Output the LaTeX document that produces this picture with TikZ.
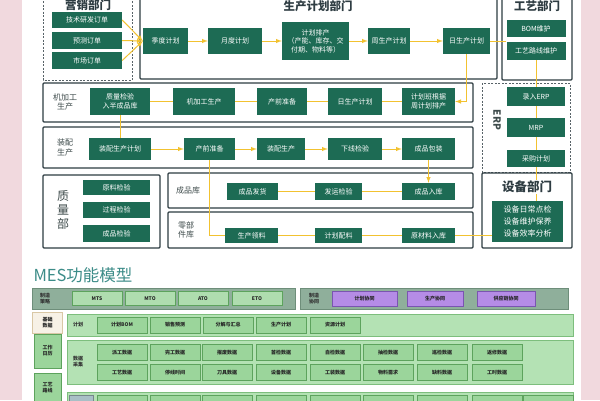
\documentclass[tikz,border=0pt]{standalone}
\usepackage{fontspec}
\setmainfont{Noto Sans CJK SC}
\usepackage{xcolor}
\usepackage{tikz}
\usetikzlibrary{arrows,calc}
\definecolor{pagepink}{HTML}{F1D9DE}
\definecolor{boxgreen}{HTML}{1D6B54}
\definecolor{flowyellow}{HTML}{F2C230}
\definecolor{frameslate}{HTML}{2E3C42}
\definecolor{labelgrey}{HTML}{3E4B4B}
\definecolor{mesteal}{HTML}{3C8C88}
\definecolor{barsage}{HTML}{8FAF9B}
\definecolor{barsageline}{HTML}{6E8E7A}
\definecolor{mesgreen}{HTML}{B4E2B4}
\definecolor{mesgreenline}{HTML}{7DBE7D}
\definecolor{cellgreen}{HTML}{9BD59B}
\definecolor{cellgreenline}{HTML}{5DA35D}
\definecolor{cellpurple}{HTML}{B58CE6}
\definecolor{cellpurpleline}{HTML}{7A55B0}
\definecolor{basetan}{HTML}{F7F1E6}
\definecolor{basetanline}{HTML}{D9C7A5}
\definecolor{routegrey}{HTML}{A8BFC6}
\tikzset{
  gbox/.style={fill=boxgreen, text=white, font=\fontsize{7}{8.5}\selectfont, align=center, inner sep=1pt},
  dept/.style={draw=frameslate, line width=1.3pt, rounded corners=1pt},
  deptdash/.style={draw=frameslate!80, line width=1pt, dash pattern=on 2pt off 1.5pt},
  grouplabel/.style={text=labelgrey, font=\fontsize{8}{9.5}\selectfont, align=center},
  depttitle/.style={text=frameslate, font=\fontsize{11.5}{13}\selectfont\bfseries},
  flow/.style={draw=flowyellow, line width=1pt, -latex},
  link/.style={draw=flowyellow, line width=1pt},
  mesbar/.style={fill=mesgreen, draw=mesgreenline, line width=0.6pt},
  sagebar/.style={fill=barsage, draw=barsageline, line width=0.6pt},
  barlabel/.style={text=black!80, font=\fontsize{5}{6}\selectfont\bfseries, align=center},
  cell/.style={fill=cellgreen, draw=cellgreenline, line width=0.6pt, minimum width=50, minimum height=16, inner sep=0pt, text=black!85, font=\fontsize{5}{6}\selectfont\bfseries},
  pcell/.style={cell, fill=cellpurple, draw=cellpurpleline, minimum height=15},
}
\begin{document}
\begin{tikzpicture}[x=1pt, y=-1pt]
\path[use as bounding box] (0,0) rectangle (600,400);
\clip (0,0) rectangle (600,400);
\fill[pagepink] (0,0) rectangle (600,400);
\fill[white] (22,0) rectangle (581,400);

\draw[deptdash] (43,-6) -- (43,80) -- (132,80) -- (132,-6);
\draw[dept] (140,-6) rectangle (497,79);
\draw[dept] (502,-6) rectangle (572,80);
\draw[deptdash] (482,83) rectangle (570,172);
\draw[dept] (482,173) rectangle (572,248);
\draw[dept] (43,83) rectangle (473,122);
\draw[dept] (43,127) rectangle (473,168);
\draw[dept] (43,175) rectangle (160,248);
\draw[dept] (168,173) rectangle (473,208);
\draw[dept] (168,212) rectangle (473,248);

\node[depttitle, inner sep=0pt] (ttsales) at (88,5.5) {营销部门};
\node[depttitle, inner sep=0pt] (ttplan) at (318,6) {生产计划部门};
\node[depttitle, inner sep=0pt] (ttproc) at (537,6.5) {工艺部门};
\node[text=labelgrey, font=\fontsize{10}{12}\selectfont\bfseries, rotate=-90] (lberp) at (497,120) {ERP};
\node[grouplabel] (lbmach) at (65,102) {机加工\\生产};
\node[grouplabel] (lbasm) at (65,147.5) {装配\\生产};
\node[grouplabel, font=\fontsize{12}{14}\selectfont] (lbqual) at (63,210) {质\\量\\部};
\node[grouplabel] (lbstock) at (188,190.5) {成品库};
\node[grouplabel] (lbparts) at (186,230) {零部\\件库};

\node[gbox, minimum width=70, minimum height=16] (ordrd) at (87,20) {技术研发订单};
\node[gbox, minimum width=70, minimum height=17] (ordfc) at (87,40.5) {预测订单};
\node[gbox, minimum width=70, minimum height=17] (ordmk) at (87,60.5) {市场订单};
\node[gbox, minimum width=45, minimum height=26] (jd) at (165.5,41) {季度计划};
\node[gbox, minimum width=54, minimum height=26] (yd) at (235,41) {月度计划};
\node[gbox, minimum width=67, minimum height=38] (pc) at (315.5,41) {计划排产\\（产能、库存、交\\付期、物料等）};
\node[gbox, minimum width=42, minimum height=26] (zs) at (389,41) {周生产计划};
\node[gbox, minimum width=47, minimum height=26] (rs) at (466.5,41) {日生产计划};
\node[gbox, minimum width=59, minimum height=17] (bom) at (536,28.5) {BOM维护};
\node[gbox, minimum width=59, minimum height=18] (gylx) at (536,51) {工艺路线维护};
\node[gbox, minimum width=58, minimum height=19] (erpin) at (536,96.5) {录入ERP};
\node[gbox, minimum width=58, minimum height=19] (mrp) at (536,127.5) {MRP};
\node[gbox, minimum width=58, minimum height=17] (cg) at (536,158.5) {采购计划};
\node[gbox, minimum width=71, minimum height=41, font=\fontsize{8}{12}\selectfont] (sb) at (527.5,221.5) {设备日常点检\\设备维护保养\\设备效率分析};

\node[gbox, minimum width=60, minimum height=27] (jj1) at (120,101.5) {质量检验\\入半成品库};
\node[gbox, minimum width=62, minimum height=27] (jj2) at (204,101.5) {机加工生产};
\node[gbox, minimum width=50, minimum height=27] (jj3) at (282,101.5) {产前准备};
\node[gbox, minimum width=54, minimum height=27] (jj4) at (355,101.5) {日生产计划};
\node[gbox, minimum width=53, minimum height=27] (jj5) at (428.5,101.5) {计划班根据\\周计划排产};

\node[gbox, minimum width=62, minimum height=22] (zp1) at (120,149) {装配生产计划};
\node[gbox, minimum width=51, minimum height=22] (zp2) at (209.5,149) {产前准备};
\node[gbox, minimum width=48, minimum height=22] (zp3) at (281,149) {装配生产};
\node[gbox, minimum width=54, minimum height=22] (zp4) at (355,149) {下线检验};
\node[gbox, minimum width=53, minimum height=22] (zp5) at (428.5,149) {成品包装};

\node[gbox, minimum width=67, minimum height=15] (zl1) at (116.5,187.5) {原料检验};
\node[gbox, minimum width=67, minimum height=16] (zl2) at (116.5,210) {过程检验};
\node[gbox, minimum width=67, minimum height=17] (zl3) at (116.5,233.5) {成品检验};

\node[gbox, minimum width=51, minimum height=17] (cp1) at (252.5,191.5) {成品发货};
\node[gbox, minimum width=47, minimum height=17] (cp2) at (338.5,191.5) {发运检验};
\node[gbox, minimum width=53, minimum height=17] (cp3) at (428.5,191.5) {成品入库};

\node[gbox, minimum width=53, minimum height=15] (lj1) at (251.5,235.5) {生产领料};
\node[gbox, minimum width=47, minimum height=15] (lj2) at (338.5,235.5) {计划配料};
\node[gbox, minimum width=53, minimum height=15] (lj3) at (428.5,235.5) {原材料入库};

\draw[flow] (ordrd.east) -- (jd.west);
\draw[flow] (ordfc.east) -- (jd.west);
\draw[flow] (ordmk.east) -- (jd.west);
\draw[flow] (jd) -- (yd);
\draw[flow] (yd) -- (pc);
\draw[flow] (pc) -- (zs);
\draw[flow] (zs) -- (rs);
\draw[link] (rs.east) -- (rs.east -| bom.west);
\draw[flow] (rs.south) |- (jj5.east);
\draw[link] (gylx) -- (erpin);
\draw[link] (erpin) -- (mrp);
\draw[link] (mrp) -- (cg);
\draw[link] (cg.south) -- (cg.south |- sb.north);
\draw[link] (jj5) -- (jj4);
\draw[link] (jj4) -- (jj3);
\draw[link] (jj3) -- (jj2);
\draw[link] (jj2) -- (jj1);
\draw[link] (jj1.south) -- (jj1.south |- zp1.north);
\draw[flow] (zp1) -- (zp2);
\draw[flow] (zp2) -- (zp3);
\draw[flow] (zp3) -- (zp4);
\draw[flow] (zp4) -- (zp5);
\draw[link] (zp2.south) |- (lj1.west);
\draw[flow] (zp5.south) -- (cp3.north);
\draw[link] (cp3) -- (cp2);
\draw[link] (cp2) -- (cp1);
\draw[link] (lj3) -- (lj2);
\draw[link] (lj2) -- (lj1);
\draw[link] (lj3.east) -- (lj3.east -| sb.west);
\node[depttitle, fill=white, inner sep=1pt, font=\fontsize{12.5}{14}\selectfont\bfseries] (ttequip) at (527,187) {设备部门};

\node[anchor=west, text=mesteal, font=\fontsize{16.5}{18}\selectfont] (mestitle) at (30,275.5) {MES功能模型};

\draw[sagebar] (32,288) rectangle (295,309);
\node[barlabel] (lbstrat) at (45,298.5) {制造\\策略};
\foreach [count=\i] \nm/\cx in {MTS/97,MTO/150,ATO/203,ETO/257}
  \node[cell, fill=cellgreen!80, minimum height=14] (strat\i) at (\cx,298.5) {\nm};
\draw[sagebar] (300,288) rectangle (568,309);
\node[barlabel] (lbcoop) at (314,298.5) {制造\\协同};
\node[pcell, minimum width=65] (coop1) at (364.5,298.5) {计划协同};
\node[pcell, minimum width=56] (coop2) at (435,298.5) {生产协同};
\node[pcell, minimum width=58] (coop3) at (506,298.5) {供应链协同};

\node[cell, fill=basetan, draw=basetanline, minimum width=30, minimum height=21, align=center] (base) at (47.5,322.5) {基础\\数据};
\node[cell, minimum width=27, minimum height=34, align=center] (cal) at (47.5,351) {工作\\日历};
\node[cell, minimum width=27, minimum height=40, align=center, text depth=12pt] (route) at (47.5,393) {工艺\\路线};

\draw[mesbar] (67,314) rectangle (573,336);
\node[barlabel] (lbplan) at (78,325) {计划};
\foreach [count=\i] \nm/\cx in {计划BOM/122,销售预测/175,分解与汇总/228,生产计划/281,资源计划/335}
  \node[cell] (plan\i) at (\cx,325) {\nm};

\draw[mesbar] (67,340) rectangle (573,384);
\node[barlabel] (lbdata) at (78,362) {数据\\采集};
\foreach [count=\i] \up/\dn/\cx in {派工数据/工艺数据/122,完工数据/停线时间/175,报废数据/刀具数据/227,首检数据/设备数据/281,自检数据/工装数据/335,抽检数据/物料需求/388,巡检数据/缺料数据/442,返修数据/工时数据/497}
{
  \node[cell] (dataup\i) at (\cx,352.5) {\up};
  \node[cell] (datadn\i) at (\cx,372.5) {\dn};
}

\draw[mesbar] (67,392) rectangle (573,412);
\draw[fill=routegrey, draw=routegrey!70!black, line width=0.6pt] (69,395) rectangle (93,412);
\foreach \cx in {122,175,227,281,335,388,442,497,548}
  \draw[fill=cellgreen, draw=cellgreenline, line width=0.6pt] (\cx-25,395) rectangle (\cx+25,412);
\end{tikzpicture}
\end{document}
